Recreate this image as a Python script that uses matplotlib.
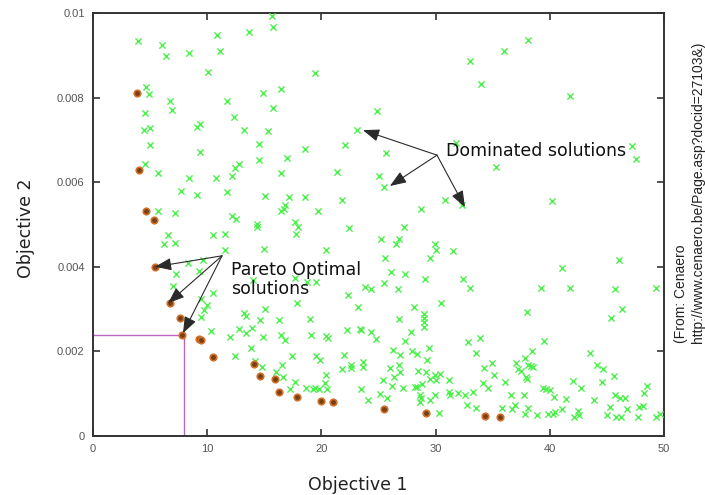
import matplotlib
matplotlib.use("Agg")
import matplotlib.pyplot as plt
import numpy as np

# Dominated solutions (Objective 1, Objective 2)
dom = [
(3.94,9.33e-3),(6.07,9.25e-3),(6.42,8.99e-3),(8.44,9.05e-3),(10.86,9.47e-3),(11.12,9.10e-3),
(13.63,9.54e-3),(15.65,9.94e-3),(15.79,9.67e-3),(10.10,8.61e-3),(4.61,8.26e-3),(4.87,8.09e-3),
(6.77,7.91e-3),(6.92,7.71e-3),(11.73,7.91e-3),(14.86,8.12e-3),(16.49,8.20e-3),(15.76,7.76e-3),
(4.52,7.64e-3),(12.38,7.54e-3),(4.50,7.24e-3),(5.02,7.27e-3),(9.11,7.31e-3),(9.40,7.38e-3),
(13.19,7.23e-3),(15.35,7.20e-3),(5.02,6.88e-3),(9.40,6.72e-3),(14.57,6.90e-3),(4.55,6.44e-3),
(5.66,6.21e-3),(12.40,6.34e-3),(12.78,6.42e-3),(14.51,6.52e-3),(16.49,6.22e-3),(8.44,6.10e-3),
(10.80,6.11e-3),(12.20,6.14e-3),(7.73,5.80e-3),(9.14,5.70e-3),(11.70,5.78e-3),(15.06,5.67e-3),
(5.72,5.33e-3),(7.15,5.28e-3),(12.20,5.21e-3),(12.55,5.13e-3),(14.39,5.02e-3),(16.49,5.33e-3),
(19.41,8.58e-3),(32.99,8.87e-3),(24.87,7.69e-3),(23.12,7.24e-3),(22.10,6.88e-3),(25.69,6.69e-3),
(18.57,6.78e-3),(16.99,6.57e-3),(21.40,6.23e-3),(25.02,6.15e-3),(25.48,5.88e-3),(31.82,6.93e-3),
(17.17,5.64e-3),(18.60,5.64e-3),(16.79,5.45e-3),(16.70,5.37e-3),(19.68,5.33e-3),(21.84,5.57e-3),
(28.69,5.37e-3),(30.80,5.57e-3),(32.34,5.45e-3),(17.66,5.05e-3),
(38.09,9.35e-3),(35.96,9.09e-3),(34.00,8.33e-3),(41.79,8.03e-3),(47.16,6.85e-3),(47.57,6.56e-3),
(35.31,6.36e-3),(40.22,5.56e-3),
(6.54,4.75e-3),(6.25,4.53e-3),(7.18,4.56e-3),(10.48,4.74e-3),(11.56,4.78e-3),(14.39,4.95e-3),
(11.59,4.39e-3),(14.94,4.42e-3),(8.32,4.10e-3),(9.63,4.15e-3),(7.24,3.84e-3),(9.28,3.91e-3),
(7.00,3.55e-3),(14.01,3.68e-3),(10.51,3.38e-3),(9.49,3.24e-3),(10.01,3.09e-3),(9.72,2.97e-3),
(9.49,2.81e-3),(13.22,2.91e-3),(13.37,2.84e-3),(15.06,3.00e-3),(14.59,2.74e-3),(16.29,2.74e-3),
(10.36,2.48e-3),(12.03,2.35e-3),(12.78,2.53e-3),(13.37,2.43e-3),(13.95,2.55e-3),(14.89,2.33e-3),
(16.49,2.39e-3),(13.81,2.09e-3),(12.40,1.90e-3),(14.21,1.77e-3),(14.83,1.64e-3),(16.00,1.52e-3),
(16.52,1.69e-3),(16.64,1.40e-3),
(17.95,4.93e-3),(17.81,4.77e-3),(22.39,4.91e-3),(27.24,4.93e-3),(25.25,4.66e-3),(26.80,4.66e-3),
(26.56,4.55e-3),(29.92,4.53e-3),(30.01,4.40e-3),(29.48,4.20e-3),(31.53,4.37e-3),(20.43,4.40e-3),
(25.54,4.20e-3),(26.07,3.87e-3),(27.29,3.84e-3),(29.10,3.71e-3),(32.40,3.70e-3),(32.99,3.51e-3),
(17.69,3.73e-3),(18.74,3.63e-3),(19.50,3.65e-3),(23.79,3.52e-3),(24.37,3.48e-3),(25.45,3.61e-3),
(26.71,3.47e-3),(22.33,3.33e-3),(17.87,3.14e-3),(23.21,3.05e-3),(28.11,3.05e-3),(30.45,3.14e-3),
(28.96,2.88e-3),(28.96,2.78e-3),(28.96,2.69e-3),(29.02,2.58e-3),(26.80,2.76e-3),(18.98,2.76e-3),
(27.82,2.47e-3),(22.27,2.51e-3),(23.35,2.52e-3),(23.50,2.50e-3),(24.32,2.45e-3),(24.81,2.29e-3),
(27.35,2.25e-3),(19.06,2.39e-3),(20.43,2.36e-3),(20.58,2.31e-3),(16.79,2.27e-3),(32.84,2.23e-3),
(26.27,2.03e-3),(26.86,1.91e-3),(27.97,2.01e-3),(28.37,1.94e-3),(29.42,2.07e-3),(21.98,1.91e-3),
(19.56,1.88e-3),(19.85,1.80e-3),(17.46,1.88e-3),(29.28,1.80e-3),(22.62,1.68e-3),(22.62,1.60e-3),
(23.65,1.74e-3),(23.65,1.62e-3),(21.84,1.58e-3),(25.98,1.60e-3),(26.80,1.68e-3),(26.86,1.52e-3),
(28.46,1.54e-3),(29.19,1.52e-3),(29.92,1.44e-3),(30.36,1.47e-3),(20.38,1.44e-3),(26.36,1.40e-3),
(25.40,1.32e-3),(29.48,1.35e-3),(30.01,1.32e-3),(31.15,1.32e-3),(17.69,1.28e-3),(20.29,1.25e-3),
(26.21,1.18e-3),(27.15,1.14e-3),(28.17,1.17e-3),(28.37,1.17e-3),(28.84,1.22e-3),(17.22,1.10e-3),
(18.62,1.14e-3),(19.27,1.10e-3),(19.41,1.14e-3),(19.79,1.10e-3),(20.52,1.10e-3),(23.50,1.10e-3),
(25.10,0.99e-3),(25.75,0.91e-3),(24.08,0.85e-3),(28.67,0.97e-3),(28.70,0.90e-3),(28.60,0.81e-3),
(29.48,0.85e-3),(29.92,0.98e-3),(31.18,1.05e-3),(31.29,0.97e-3),(31.96,1.01e-3),(32.55,0.98e-3),
(32.78,0.73e-3),(30.30,0.54e-3),
(46.03,4.17e-3),(41.09,3.98e-3),(39.20,3.51e-3),(41.73,3.51e-3),(45.68,3.47e-3),(49.27,3.51e-3),
(38.00,2.92e-3),(46.32,3.00e-3),(45.32,2.78e-3),(33.91,2.31e-3),(33.56,1.97e-3),(39.49,2.25e-3),
(43.49,1.97e-3),(38.44,2.01e-3),(34.20,1.61e-3),(34.93,1.72e-3),(35.08,1.44e-3),(37.06,1.73e-3),
(37.21,1.58e-3),(37.44,1.54e-3),(37.79,1.85e-3),(38.09,1.68e-3),(38.38,1.66e-3),(38.52,1.64e-3),
(37.88,1.40e-3),(38.00,1.35e-3),(44.13,1.69e-3),(44.65,1.58e-3),(45.59,1.43e-3),(34.15,1.25e-3),
(34.58,1.14e-3),(36.04,1.28e-3),(39.40,1.13e-3),(39.69,1.11e-3),(40.04,1.09e-3),(42.03,1.30e-3),
(42.76,1.14e-3),(44.60,1.27e-3),(48.51,1.18e-3),(33.27,1.05e-3),(33.56,0.67e-3),(36.63,0.97e-3),
(37.71,0.98e-3),(40.36,0.93e-3),(41.44,0.87e-3),(43.87,0.84e-3),(45.68,0.97e-3),(46.11,0.89e-3),
(46.55,0.91e-3),(48.21,1.01e-3),(46.79,0.65e-3),(45.24,0.69e-3),(47.78,0.69e-3),(48.16,0.71e-3),
(35.84,0.67e-3),(36.71,0.65e-3),(36.92,0.73e-3),(38.09,0.67e-3),(37.79,0.51e-3),(38.90,0.50e-3),
(39.84,0.53e-3),(40.28,0.53e-3),(40.42,0.56e-3),(41.09,0.63e-3),(42.11,0.46e-3),(42.46,0.59e-3),
(42.55,0.50e-3),(45.03,0.50e-3),(45.76,0.44e-3),(46.26,0.44e-3),(47.72,0.46e-3),(49.27,0.46e-3),
(49.62,0.51e-3),
]
dom_x = [p[0] for p in dom]
dom_y = [p[1] for p in dom]

# Pareto optimal solutions
pareto_x = [3.85, 4.0, 4.6, 5.3, 5.4, 6.7, 7.6, 7.8, 9.3, 9.5, 10.5, 14.1, 14.6, 15.9,
            16.3, 17.9, 20.0, 21.0, 25.5, 29.2, 34.3, 35.6]
pareto_y = [8.11e-3, 6.29e-3, 5.32e-3, 5.10e-3, 4.00e-3, 3.14e-3, 2.79e-3, 2.39e-3, 2.29e-3,
            2.27e-3, 1.87e-3, 1.70e-3, 1.42e-3, 1.35e-3, 1.04e-3, 0.93e-3, 0.83e-3, 0.80e-3,
            0.64e-3, 0.54e-3, 0.47e-3, 0.45e-3]

# highlighted point
ref_x, ref_y = 7.97, 2.39e-3

x_ticks = [0, 10, 20, 30, 40, 50]
x_labels = ["0", "10", "20", "30", "40", "50"]
y_ticks = [0, 0.002, 0.004, 0.006, 0.008, 0.01]
y_labels = ["0", "0.002", "0.004", "0.006", "0.008", "0.01"]

dom_text_pos = (30.12, 6.64e-3)
dom_targets = [(23.64, 7.23e-3), (26.0, 5.91e-3), (32.57, 5.41e-3)]
par_text_pos = (11.3, 4.26e-3)
par_targets = [(5.43, 4.0e-3), (6.57, 3.14e-3), (7.88, 2.43e-3)]

fig = plt.figure(figsize=(7.05, 4.95), dpi=100)
ax = fig.add_axes([93/705, 59/495, 571/705, 423/495])

ax.scatter(dom_x, dom_y, marker="x", s=20, c="#4cf04c", linewidths=1.0, zorder=3)
ax.scatter(pareto_x, pareto_y, marker="o", s=22, facecolor="#7a3f12",
           edgecolor="#d0702a", linewidths=1.2, zorder=4)

ax.plot([ref_x, ref_x], [0, ref_y], color="#b868c0", lw=1.0, zorder=2)
ax.plot([0, ref_x], [ref_y, ref_y], color="#b868c0", lw=1.0, zorder=2)

ax.set_xlim(0, 50)
ax.set_ylim(0, 0.01)
ax.set_xticks(x_ticks)
ax.set_xticklabels(x_labels)
ax.set_yticks(y_ticks)
ax.set_yticklabels(y_labels)
ax.tick_params(direction="in", length=5, width=1.2, top=True, right=True,
               labelsize=8, labelcolor="#555555", color="#333333", pad=6)
for lab in ax.get_xticklabels() + ax.get_yticklabels():
    lab.set_family("Liberation Sans")
for sp in ax.spines.values():
    sp.set_linewidth(1.4)
    sp.set_color("#333333")

fig.text(358/705, 1 - 485/495, "Objective 1", fontsize=12.5, family="DejaVu Sans",
         color="#222222", ha="center", va="center")
fig.text(26/705, 1 - 228/495, "Objective 2", fontsize=12.5, family="DejaVu Sans",
         color="#222222", ha="center", va="center", rotation=90)

arrow_kw = dict(arrowstyle="-|>,head_length=1.0,head_width=0.38", color="#2a2a2a",
                lw=0.8, shrinkA=0, shrinkB=0)
for tx, ty in dom_targets:
    ax.annotate("", xy=(tx, ty), xytext=dom_text_pos, arrowprops=arrow_kw, zorder=5)
for tx, ty in par_targets:
    ax.annotate("", xy=(tx, ty), xytext=par_text_pos, arrowprops=arrow_kw, zorder=5)

ax.text(30.9, 6.73e-3, "Dominated solutions", fontsize=12.5, family="DejaVu Sans",
        ha="left", va="center", color="#111111", zorder=6)
ax.text(12.1, 3.70e-3, "Pareto Optimal\nsolutions", fontsize=12.5, family="DejaVu Sans",
        ha="left", va="center", color="#111111", linespacing=1.05, zorder=6)

fig.text(681/705, 1 - 343/495, "(From: Cenaero", rotation=90, fontsize=10,
         family="Liberation Sans", ha="center", va="bottom", color="#222222")
fig.text(698/705, 1 - 343/495, "http://www.cenaero.be/Page.asp?docid=27103&)", rotation=90,
         fontsize=10, family="Liberation Sans", ha="center", va="bottom", color="#222222")

fig.savefig("out.png", dpi=100)
